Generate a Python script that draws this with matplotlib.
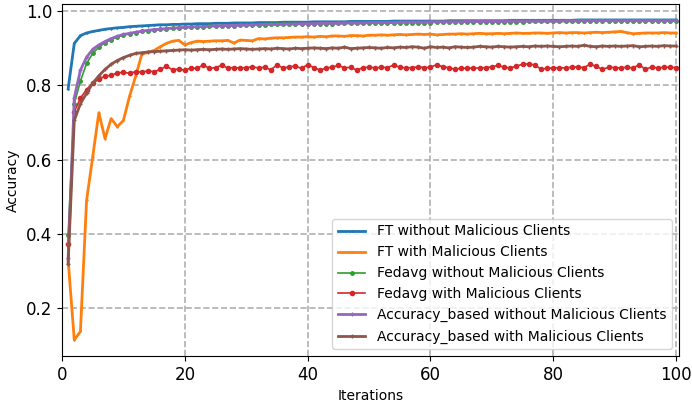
import matplotlib
matplotlib.use('Agg')
import matplotlib.pyplot as plt

# iterations 1..100
iterations = list(range(1, 101))

# FT without malicious clients
ft_clean = [0.790, 0.912, 0.933, 0.940, 0.944, 0.947, 0.950, 0.952, 0.954, 0.955,
            0.957, 0.958, 0.959, 0.960, 0.961, 0.962, 0.962, 0.963, 0.963, 0.964,
            0.964, 0.965, 0.965, 0.965, 0.966, 0.966, 0.966, 0.967, 0.967, 0.967,
            0.967, 0.968, 0.968, 0.968, 0.968, 0.969, 0.969, 0.969, 0.969, 0.969,
            0.970, 0.970, 0.970, 0.970, 0.970, 0.970, 0.971, 0.971, 0.971, 0.971,
            0.971, 0.971, 0.971, 0.972, 0.972, 0.972, 0.972, 0.972, 0.972, 0.972,
            0.972, 0.972, 0.973, 0.973, 0.973, 0.973, 0.973, 0.973, 0.973, 0.973,
            0.973, 0.973, 0.974, 0.974, 0.974, 0.974, 0.974, 0.974, 0.974, 0.974,
            0.974, 0.974, 0.974, 0.975, 0.975, 0.975, 0.975, 0.975, 0.975, 0.975,
            0.975, 0.975, 0.975, 0.975, 0.975, 0.975, 0.975, 0.975, 0.975, 0.975]

# FT with malicious clients
ft_mal = [0.330, 0.115, 0.138, 0.490, 0.607, 0.726, 0.656, 0.710, 0.688, 0.705,
          0.770, 0.824, 0.883, 0.888, 0.893, 0.903, 0.912, 0.918, 0.920, 0.908,
          0.914, 0.918, 0.917, 0.918, 0.919, 0.919, 0.920, 0.913, 0.921, 0.920,
          0.919, 0.925, 0.924, 0.926, 0.927, 0.927, 0.928, 0.929, 0.929, 0.930,
          0.929, 0.931, 0.930, 0.932, 0.932, 0.931, 0.933, 0.933, 0.932, 0.934,
          0.934, 0.935, 0.934, 0.935, 0.936, 0.935, 0.936, 0.937, 0.936, 0.937,
          0.935, 0.936, 0.937, 0.937, 0.938, 0.937, 0.938, 0.939, 0.938, 0.938,
          0.939, 0.938, 0.939, 0.940, 0.939, 0.939, 0.940, 0.940, 0.939, 0.940,
          0.941, 0.940, 0.941, 0.941, 0.940, 0.941, 0.942, 0.941, 0.942, 0.943,
          0.944, 0.941, 0.938, 0.939, 0.940, 0.940, 0.940, 0.941, 0.940, 0.940]

# Fedavg without malicious clients
fedavg_clean = [0.398, 0.750, 0.811, 0.858, 0.885, 0.902, 0.914, 0.922, 0.929, 0.934,
                0.938, 0.941, 0.944, 0.946, 0.948, 0.950, 0.951, 0.953, 0.954, 0.955,
                0.956, 0.957, 0.957, 0.958, 0.959, 0.959, 0.960, 0.960, 0.961, 0.961,
                0.962, 0.962, 0.962, 0.963, 0.963, 0.963, 0.964, 0.964, 0.964, 0.964,
                0.965, 0.965, 0.965, 0.965, 0.966, 0.966, 0.966, 0.966, 0.966, 0.967,
                0.967, 0.967, 0.967, 0.967, 0.968, 0.968, 0.968, 0.968, 0.968, 0.968,
                0.969, 0.969, 0.969, 0.969, 0.969, 0.969, 0.969, 0.970, 0.970, 0.970,
                0.970, 0.970, 0.970, 0.970, 0.970, 0.971, 0.971, 0.971, 0.971, 0.971,
                0.971, 0.971, 0.971, 0.971, 0.972, 0.972, 0.972, 0.972, 0.972, 0.972,
                0.972, 0.972, 0.972, 0.972, 0.972, 0.972, 0.972, 0.972, 0.972, 0.972]

# Fedavg with malicious clients
fedavg_mal = [0.374, 0.728, 0.765, 0.788, 0.806, 0.815, 0.824, 0.826, 0.833, 0.834,
              0.832, 0.836, 0.835, 0.838, 0.836, 0.842, 0.851, 0.841, 0.843, 0.840,
              0.846, 0.845, 0.854, 0.845, 0.847, 0.853, 0.846, 0.847, 0.846, 0.847,
              0.849, 0.846, 0.848, 0.841, 0.854, 0.846, 0.849, 0.851, 0.845, 0.855,
              0.847, 0.840, 0.846, 0.848, 0.853, 0.846, 0.848, 0.840, 0.847, 0.848,
              0.846, 0.848, 0.847, 0.854, 0.848, 0.846, 0.847, 0.849, 0.847, 0.848,
              0.855, 0.849, 0.847, 0.842, 0.846, 0.845, 0.846, 0.846, 0.847, 0.849,
              0.853, 0.848, 0.846, 0.851, 0.856, 0.857, 0.854, 0.843, 0.845, 0.846,
              0.847, 0.846, 0.848, 0.849, 0.847, 0.856, 0.850, 0.842, 0.848, 0.847,
              0.846, 0.848, 0.846, 0.855, 0.842, 0.849, 0.846, 0.848, 0.848, 0.847]

# Accuracy_based without malicious clients
acc_clean = [0.335, 0.766, 0.840, 0.875, 0.896, 0.908, 0.917, 0.925, 0.931, 0.936,
             0.939, 0.942, 0.945, 0.947, 0.949, 0.950, 0.952, 0.953, 0.954, 0.955,
             0.956, 0.957, 0.957, 0.958, 0.959, 0.959, 0.960, 0.960, 0.961, 0.961,
             0.962, 0.962, 0.963, 0.963, 0.963, 0.964, 0.964, 0.964, 0.965, 0.965,
             0.965, 0.966, 0.966, 0.966, 0.966, 0.967, 0.967, 0.967, 0.967, 0.968,
             0.968, 0.968, 0.968, 0.968, 0.969, 0.969, 0.969, 0.969, 0.969, 0.970,
             0.970, 0.970, 0.970, 0.970, 0.970, 0.971, 0.971, 0.971, 0.971, 0.971,
             0.971, 0.971, 0.972, 0.972, 0.972, 0.972, 0.972, 0.972, 0.972, 0.972,
             0.972, 0.973, 0.973, 0.973, 0.973, 0.973, 0.973, 0.973, 0.973, 0.973,
             0.973, 0.973, 0.973, 0.973, 0.973, 0.973, 0.973, 0.973, 0.973, 0.973]

# Accuracy_based with malicious clients
acc_mal = [0.320, 0.705, 0.750, 0.778, 0.805, 0.825, 0.842, 0.856, 0.866, 0.874,
           0.880, 0.885, 0.887, 0.889, 0.890, 0.891, 0.892, 0.893, 0.894, 0.895,
           0.894, 0.895, 0.896, 0.895, 0.896, 0.897, 0.896, 0.897, 0.898, 0.897,
           0.896, 0.897, 0.898, 0.897, 0.899, 0.898, 0.897, 0.899, 0.898, 0.899,
           0.900, 0.899, 0.898, 0.900, 0.899, 0.902, 0.898, 0.899, 0.900, 0.901,
           0.900, 0.899, 0.901, 0.900, 0.902, 0.901, 0.903, 0.902, 0.899, 0.903,
           0.901, 0.902, 0.900, 0.903, 0.902, 0.901, 0.902, 0.904, 0.903, 0.902,
           0.904, 0.903, 0.902, 0.903, 0.904, 0.903, 0.905, 0.904, 0.905, 0.904,
           0.903, 0.904, 0.905, 0.904, 0.907, 0.904, 0.903, 0.905, 0.904, 0.905,
           0.904, 0.905, 0.906, 0.903, 0.904, 0.905, 0.904, 0.906, 0.905, 0.905]

fig = plt.figure(figsize=(6.92, 4.07), dpi=100)
ax = fig.add_axes([0.0896, 0.1253, 0.891, 0.865])

ax.plot(iterations, ft_clean, color='#1f77b4', marker='+', markersize=2, linewidth=2,
        label='FT without Malicious Clients')
ax.plot(iterations, ft_mal, color='#ff7f0e', marker='+', markersize=2, linewidth=2,
        label='FT with Malicious Clients')
ax.plot(iterations, fedavg_clean, color='#2ca02c', marker='.', markersize=5, linewidth=1.2,
        label='Fedavg without Malicious Clients')
ax.plot(iterations, fedavg_mal, color='#d62728', marker='.', markersize=6, linewidth=1.2,
        label='Fedavg with Malicious Clients')
ax.plot(iterations, acc_clean, color='#9467bd', marker='+', markersize=3, linewidth=2,
        label='Accuracy_based without Malicious Clients')
ax.plot(iterations, acc_mal, color='#8c564b', marker='+', markersize=3, linewidth=2,
        label='Accuracy_based with Malicious Clients')

ax.set_xlim(0, 100.4)
ax.grid(True, linestyle='--', linewidth=1.2, color='#b0b0b0')
ax.tick_params(labelsize=12)
ax.set_xlabel('Iterations', fontsize=10)
ax.set_ylabel('Accuracy', fontsize=10)
ax.legend(loc='lower right', fontsize=10)

fig.savefig('out.png', dpi=100)
